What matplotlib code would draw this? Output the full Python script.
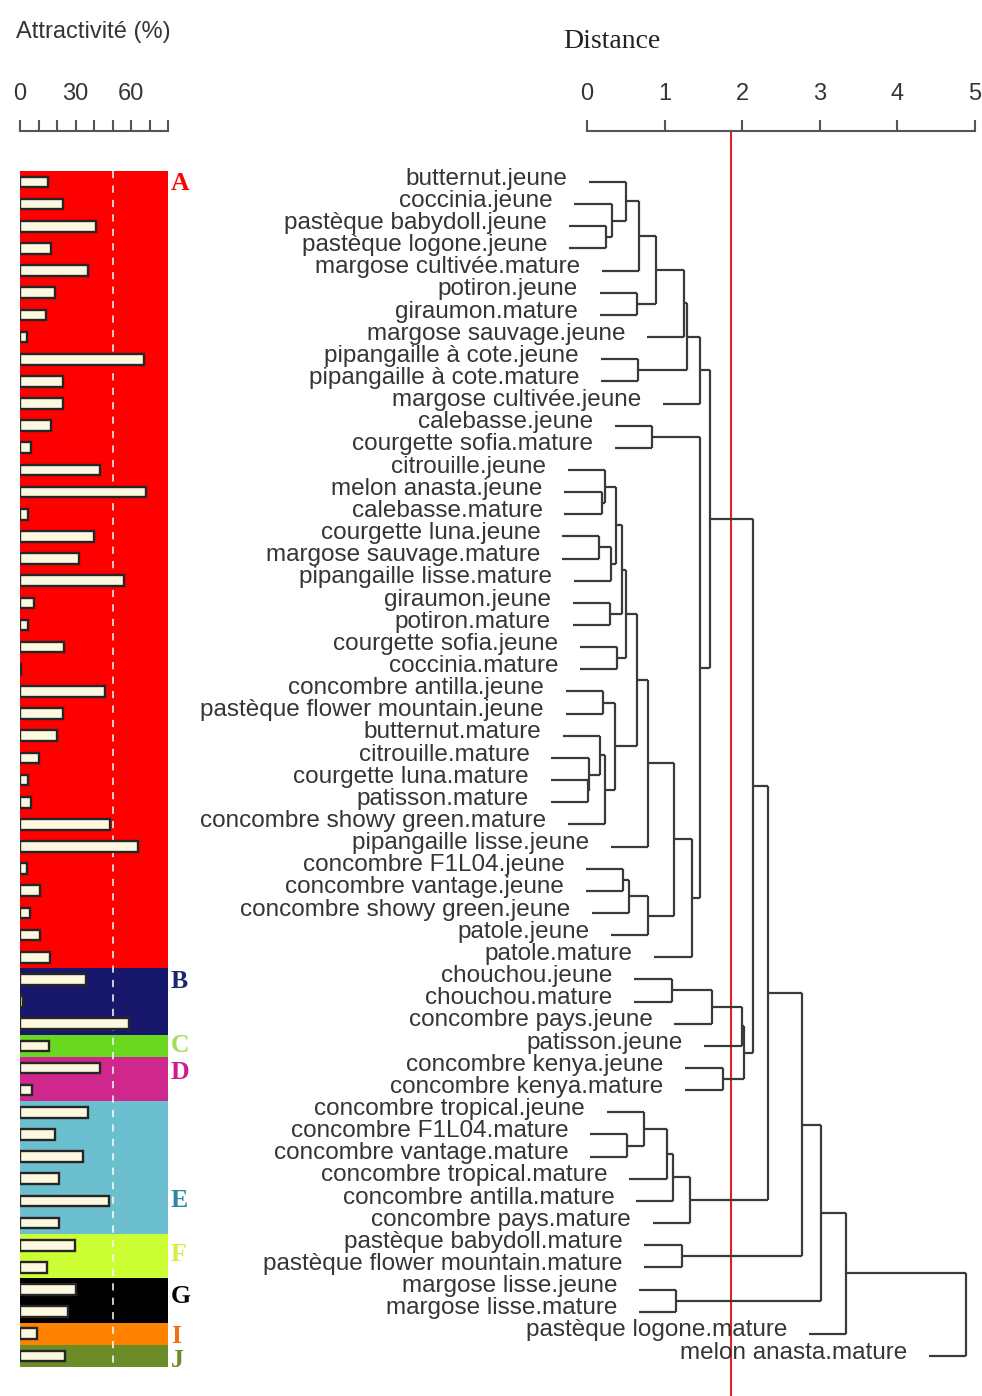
import numpy as np
import matplotlib.pyplot as plt

# ----- data (leaf order = top to bottom) -----
LABELS = [
    "butternut.jeune", "coccinia.jeune", "pastèque babydoll.jeune", "pastèque logone.jeune",
    "margose cultivée.mature", "potiron.jeune", "giraumon.mature", "margose sauvage.jeune",
    "pipangaille à cote.jeune", "pipangaille à cote.mature", "margose cultivée.jeune",
    "calebasse.jeune", "courgette sofia.mature", "citrouille.jeune", "melon anasta.jeune",
    "calebasse.mature", "courgette luna.jeune", "margose sauvage.mature", "pipangaille lisse.mature",
    "giraumon.jeune", "potiron.mature", "courgette sofia.jeune", "coccinia.mature",
    "concombre antilla.jeune", "pastèque flower mountain.jeune", "butternut.mature",
    "citrouille.mature", "courgette luna.mature", "patisson.mature", "concombre showy green.mature",
    "pipangaille lisse.jeune", "concombre F1L04.jeune", "concombre vantage.jeune",
    "concombre showy green.jeune", "patole.jeune", "patole.mature", "chouchou.jeune",
    "chouchou.mature", "concombre pays.jeune", "patisson.jeune", "concombre kenya.jeune",
    "concombre kenya.mature", "concombre tropical.jeune", "concombre F1L04.mature",
    "concombre vantage.mature", "concombre tropical.mature", "concombre antilla.mature",
    "concombre pays.mature", "pastèque babydoll.mature", "pastèque flower mountain.mature",
    "margose lisse.jeune", "margose lisse.mature", "pastèque logone.mature", "melon anasta.mature",
]

# attractivity (%) per leaf
ATTRACT = [15, 23, 41, 17, 37, 19, 14, 4, 67, 23, 23, 17, 6, 43, 68, 4.5, 40, 32, 56,
           7.5, 4.5, 24, 0.5, 46, 23, 20, 10.5, 4.5, 6, 48.5, 64, 4, 11, 5.5, 11, 16,
           35.5, 1.5, 59, 15.5, 43.5, 6.5, 36.5, 19, 34, 21, 48, 21, 29.5, 14.5, 30, 26,
           9, 24.5]

GROUPS      = ["A", "B", "C", "D", "E", "F", "G", "I", "J"]
GROUP_SIZES = [36, 3, 1, 2, 6, 2, 2, 1, 1]
GROUP_BG    = ["#ff0000", "#17186c", "#6ad820", "#d0278c", "#6cbfcf",
               "#ccff33", "#000000", "#ff8200", "#6b8c26"]
GROUP_TXT   = ["#ff0000", "#1b2870", "#9fdf5a", "#d01a8a", "#2e86a0",
               "#d2ef3c", "#000000", "#f07010", "#6b8c26"]
GROUP_LABEL_ROW = [1.05, 37.1, 40.0, 41.2, 47.0, 49.4, 51.3, 53.1, 54.2]

# hclust-style merges: negative = leaf (1-based), positive = earlier merge
MERGE_A = [-3, -2, -1, 3, -6, 4, -9, 6, 8, 9, -12, -15, -14, -17, 14, 13, -20, 16, -22, 18,
           -24, -28, -27, -26, 24, 21, 20, 27, -32, 29, 30, 28, 32, 11, 10, -37, 36, 37,
           -41, 38, 35, -44, -43, 43, 44, 45, 41, -49, 47, -51, 49, 51, 52]
MERGE_B = [-4, 1, 2, -5, -7, 5, -10, -8, 7, -11, -13, -16, 12, -18, -19, 15, -21, 17, -23, 19,
           -25, -29, 22, 23, -30, 25, 26, -31, -33, -34, -35, 31, -36, 33, 34, -38, -39, -40,
           -42, 39, 40, -45, 42, -46, -47, -48, 46, -50, 48, -52, 50, -53, -54]
MERGE_H = [0.245, 0.318, 0.503, 0.670, 0.644, 0.889, 0.657, 1.250, 1.285, 1.456,
           0.838, 0.190, 0.232, 0.159, 0.309, 0.374, 0.296, 0.447, 0.390, 0.503,
           0.206, 0.010, 0.020, 0.168, 0.232, 0.367, 0.640, 0.790, 0.468, 0.545,
           0.790, 1.120, 1.349, 1.456, 1.580, 1.090, 1.607, 1.994, 1.749, 2.023,
           2.139, 0.519, 0.735, 1.027, 1.112, 1.327, 2.332, 1.220, 2.767, 1.147,
           3.012, 3.338, 4.884]

CUT = 1.86          # red cut line
THRESH = 50         # white dashed line on the bars
HANG = 0.48
GAP = 0.28

# ----- layout -----
W, H = 982, 1396
fig = plt.figure(figsize=(W / 100, H / 100), dpi=100)
TOP_PX, ROW0_PX, ROW_PX = 131, 182, 22.15
r_top = 1 + (TOP_PX - ROW0_PX) / ROW_PX
r_bot = 1 + (H - ROW0_PX) / ROW_PX
ax_h = (H - TOP_PX) / H

SANS = "Liberation Sans"
TXT = "#353535"
LINE = "#3a3a3a"

ax_b = fig.add_axes([20 / W, 0, 148 / W, ax_h])
ax_d = fig.add_axes([587 / W, 0, 388 / W, ax_h])

for ax in (ax_b, ax_d):
    ax.set_ylim(r_bot, r_top)
    for s in ("left", "right", "bottom"):
        ax.spines[s].set_visible(False)
    ax.spines["top"].set_color("#555555")
    ax.spines["top"].set_linewidth(1.5)
    ax.xaxis.tick_top()
    ax.tick_params(axis="x", direction="out", length=8, width=1.5, color="#555555",
                   pad=11, labelsize=17, labelcolor=TXT)
    ax.set_yticks([])
    ax.patch.set_visible(False)

# ----- bar panel -----
rows = np.arange(1, len(LABELS) + 1)
ax_b.set_xlim(0, 80)
ax_b.set_xticks(np.arange(0, 81, 10))
ax_b.set_xticklabels(["0", "", "", "30", "", "", "60", "", ""], fontfamily=SANS)

start = 0.5
for g, size, bg, tc, lr in zip(GROUPS, GROUP_SIZES, GROUP_BG, GROUP_TXT, GROUP_LABEL_ROW):
    ax_b.axhspan(start, start + size, color=bg, lw=0, zorder=0)
    ax_b.text(81.5, lr, g, color=tc, fontsize=18.5, fontweight="bold",
              fontfamily="Liberation Serif", ha="left", va="center", clip_on=False)
    start += size

ax_b.vlines(THRESH, 0.5, start, colors="white", linestyles=(0, (4, 4)), lw=1.3,
            alpha=0.85, zorder=1)
ax_b.barh(rows, ATTRACT, height=0.48, color="#fdf9e0", edgecolor="#262626",
          linewidth=1.7, zorder=2)

# ----- dendrogram -----
ax_d.set_xlim(0, 5)
ax_d.set_xticks(range(6))
ax_d.set_xticklabels([str(i) for i in range(6)], fontfamily=SANS)
ax_d.axvline(CUT, color="#e3202a", lw=1.5, zorder=0)

pos, hgt = {}, {}
for k, (a, b, h) in enumerate(zip(MERGE_A, MERGE_B, MERGE_H), start=1):
    ends = []
    for c in (a, b):
        if c < 0:
            y = -c
            x0 = h - HANG
            ax_d.text(x0 - GAP, y + 0.12, LABELS[y - 1], ha="right", va="baseline",
                      fontsize=17.5, fontfamily=SANS, color=TXT, clip_on=False)
        else:
            y = pos[c]
            x0 = hgt[c]
        ax_d.plot([x0, h], [y, y], color=LINE, lw=1.6, clip_on=False,
                  solid_capstyle="butt")
        ends.append(y)
    ax_d.plot([h, h], ends, color=LINE, lw=1.6, clip_on=False, solid_capstyle="butt")
    pos[k] = sum(ends) / 2
    hgt[k] = h

# ----- titles -----
fig.text(16 / W, 1 - 32 / H, "Attractivité (%)", fontsize=17, fontfamily=SANS,
         color=TXT, ha="left", va="center")
fig.text(612 / W, 1 - 41 / H, "Distance", fontsize=20, fontfamily="Liberation Serif",
         color="#222222", ha="center", va="center")

fig.savefig("out.png", dpi=100, facecolor="white")
